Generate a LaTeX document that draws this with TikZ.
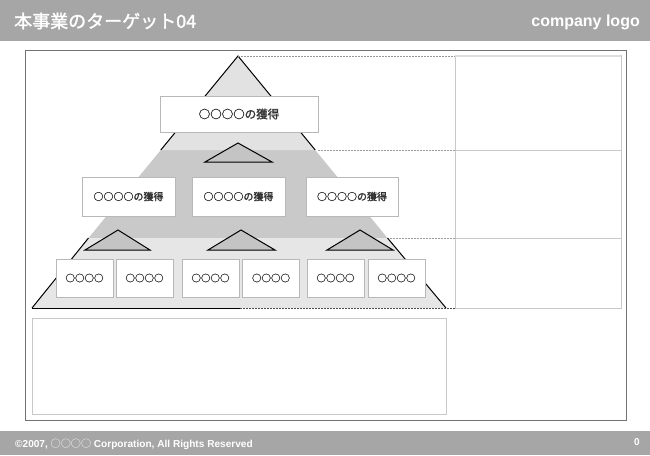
\documentclass[tikz,border=0pt]{standalone}
\usepackage{fontspec}
\setmainfont{Liberation Sans}
\newfontfamily\jp[AutoFakeBold=1.6]{Noto Sans CJK JP}
\begin{document}
\begin{tikzpicture}[x=1pt,y=-1pt,
  bar/.style={fill=barg,draw=none},
  box/.style={draw=boxg,fill=white,line width=0.8pt,inner sep=0pt,font=\jp\color{txtg}},
  mini/.style={draw=black,fill=minig,line width=1pt,line join=miter},
  edge/.style={draw=black,line width=1pt},
  guide/.style={draw=gray!80,dashed,dash pattern=on 1.5pt off 1.5pt,line width=0.6pt},
  col/.style={draw=colg,line width=0.8pt}]
\definecolor{barg}{HTML}{A6A6A6}
\definecolor{boxg}{HTML}{B8B8B8}
\definecolor{txtg}{HTML}{333333}
\definecolor{minig}{HTML}{C4C4C4}
\definecolor{colg}{HTML}{C8C8C8}
\definecolor{tierA}{HTML}{E2E2E2}
\definecolor{tierB}{HTML}{C9C9C9}
\definecolor{tierC}{HTML}{E6E6E6}
\useasboundingbox (0,0) rectangle (650,455);
\fill[white] (0,0) rectangle (650,455);
% header & footer
\fill[bar] (0,0) rectangle (650,41);
\fill[bar] (0,431) rectangle (650,455);
\node[anchor=west,text=white,font=\jp\bfseries\fontsize{18}{18}\selectfont,inner sep=0pt] (title) at (14,21) {本事業のターゲット04};
\node[anchor=east,text=white,font=\bfseries\fontsize{16}{16}\selectfont,inner sep=0pt] (logo) at (640,22) {company logo};
\node[anchor=west,text=white,font=\bfseries\fontsize{10.1}{10.1}\selectfont,inner sep=0pt] (copy) at (15,444) {©2007, {\jp\mdseries ○○○○} Corporation, All Rights Reserved};
\node[anchor=east,text=white,font=\bfseries\fontsize{10}{10}\selectfont,inner sep=0pt] (page) at (640,442) {0};
% frame
\draw[draw=gray!90!black,line width=1pt] (25,50) rectangle (626,420);
% right column
\draw[col] (455,55) rectangle (621,308);
\draw[col,draw=colg!60,line width=1.5pt] (455,56) -- (621,56);
\draw[col] (455,150) -- (621,150);
\draw[col] (455,238) -- (621,238);
% bottom text box
\draw[col] (32,318) rectangle (446,414);
% pyramid coordinates
\coordinate (A) at (238,56);
\coordinate (L1) at (160.8,150); \coordinate (R1) at (315.2,150);
\coordinate (L2) at (88.5,238); \coordinate (R2) at (387.5,238);
\coordinate (BL) at (32,308); \coordinate (BR) at (446,308);
% tiers
\fill[tierB] (L1) -- (R1) -- (R2) -- (L2) -- cycle;
\fill[tierC] (L2) -- (R2) -- (BR) -- (BL) -- cycle;
\fill[tierA] (A) -- (R1) -- (L1) -- cycle;
\draw[edge] (L1) -- (A) -- (R1);
\draw[edge] (L2) -- (BL);
\draw[edge] (R2) -- (BR);
\draw[edge] (BL) -- (240,308);
% guides
\coordinate (G0) at (455,56); \coordinate (G1) at (455,150);
\coordinate (G2) at (455,238); \coordinate (G3) at (455,308);
\coordinate (C1) at (318,150); \coordinate (C2) at (390,238); \coordinate (C3) at (240,308);
\draw[guide] (A) -- (G0);
\draw[guide] (C1) -- (G1);
\draw[guide] (C2) -- (G2);
\draw[guide,draw=black!70] (C3) -- (G3);
% mini triangles
\draw[mini] (238,143) -- (272,162) -- (205,162) -- cycle;
\draw[mini] (118,230) -- (150,250) -- (85,250) -- cycle;
\draw[mini] (241,230) -- (275,250) -- (208,250) -- cycle;
\draw[mini] (360,230) -- (393,250) -- (327,250) -- cycle;
% boxes
\node[box,minimum width=158pt,minimum height=36pt,font=\jp\bfseries\fontsize{11.5}{11.5}\selectfont\color{txtg}] (top) at (239,114) {○○○○の獲得};
\node[box,minimum width=93pt,minimum height=39pt,font=\jp\bfseries\fontsize{10}{10}\selectfont\color{txtg}] (m1) at (128.5,196.5) {○○○○の獲得};
\node[box,minimum width=93pt,minimum height=39pt,font=\jp\bfseries\fontsize{10}{10}\selectfont\color{txtg}] (m2) at (238.5,196.5) {○○○○の獲得};
\node[box,minimum width=92pt,minimum height=39pt,font=\jp\bfseries\fontsize{10}{10}\selectfont\color{txtg}] (m3) at (352,196.5) {○○○○の獲得};
\foreach \n/\cx in {b1/84.5,b2/144.5,b3/210.5,b4/271,b5/335.5,b6/396.5}{
  \node[box,minimum width=57pt,minimum height=38pt,font=\jp\bfseries\fontsize{9.5}{9.5}\selectfont\color{txtg}] (\n) at (\cx,278) {○○○○};
}
\end{tikzpicture}
\end{document}
